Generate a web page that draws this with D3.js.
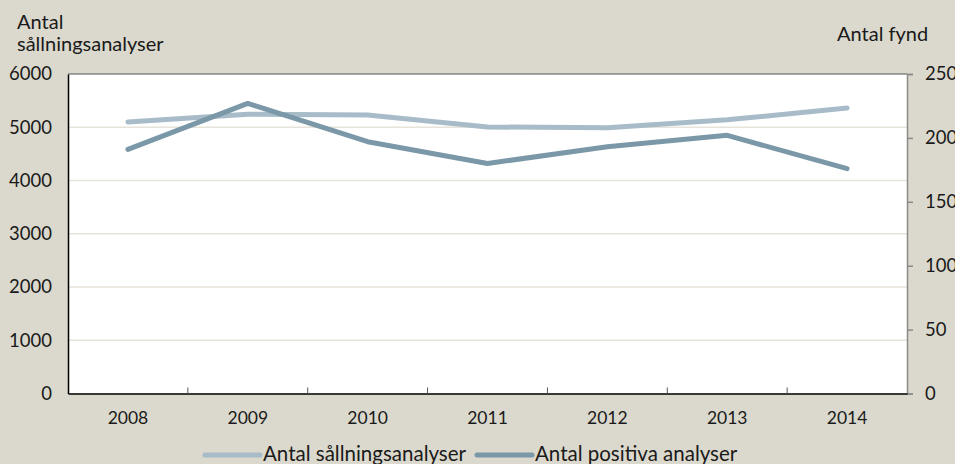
<!DOCTYPE html>
<html><head><meta charset="utf-8">
<script src="https://cdn.jsdelivr.net/npm/d3@7"></script>
<style>
html,body{margin:0;padding:0;background:#dbd9cd;}
svg{display:block;font-family:Lato,"DejaVu Sans",sans-serif;}
</style></head>
<body>
<svg id="chart" width="955" height="464"></svg>
<script>
const years = ["2008","2009","2010","2011","2012","2013","2014"];
const screenings = [5100, 5245, 5230, 5005, 4990, 5140, 5360];
const positives = [191, 227, 197, 180, 193, 202, 176];
const leftTicks = [0, 1000, 2000, 3000, 4000, 5000, 6000];
const rightTicks = [0, 50, 100, 150, 200, 250];
const seriesNames = ["Antal sållningsanalyser", "Antal positiva analyser"];

const W = 955, H = 464;
const m = {l: 68, r: 48, t: 74, b: 70.5};
const svg = d3.select("#chart");
svg.append("rect").attr("width", W).attr("height", H).attr("fill", "#dbd9cd");

const x = d3.scaleBand().domain(years).range([m.l, W - m.r]);
const yL = d3.scaleLinear().domain([0, 6000]).range([H - m.b, m.t]);
const yR = d3.scaleLinear().domain([0, 250]).range([H - m.b, m.t]);
const cx = d => x(d) + x.bandwidth() / 2;

// plot background
svg.append("rect").attr("x", m.l).attr("y", m.t)
  .attr("width", W - m.r - m.l).attr("height", H - m.b - m.t).attr("fill", "#ffffff");

// grid
svg.append("g").selectAll("line").data(leftTicks.filter(v => v > 0 && v < 6000)).join("line")
  .attr("x1", m.l).attr("x2", W - m.r)
  .attr("y1", d => yL(d)).attr("y2", d => yL(d))
  .attr("stroke", "#e6e3da").attr("stroke-width", 1.5);

// top border
svg.append("line").attr("x1", m.l).attr("x2", W - m.r).attr("y1", m.t).attr("y2", m.t)
  .attr("stroke", "#555").attr("stroke-width", 1.2);

// left axis
const gL = svg.append("g").attr("transform", `translate(${m.l},0)`)
  .call(d3.axisLeft(yL).tickValues(leftTicks).tickSize(0).tickPadding(16).tickFormat(d3.format("d")));
gL.select(".domain").attr("stroke", "#000").attr("stroke-width", 1.5);
gL.selectAll("text").attr("font-size", 18.5).attr("fill", "#1a1a1a").attr("font-family", "Lato");

// right axis
const gR = svg.append("g").attr("transform", `translate(${W - m.r},0)`)
  .call(d3.axisRight(yR).tickValues(rightTicks).tickSize(6).tickPadding(12).tickFormat(d3.format("d")));
gR.select(".domain").attr("stroke", "#8a8a8a").attr("stroke-width", 1.5);
gR.selectAll(".tick line").attr("stroke", "#8a8a8a").attr("stroke-width", 1.5);
gR.selectAll("text").attr("font-size", 18.5).attr("fill", "#1a1a1a").attr("font-family", "Lato");

// bottom axis
const gB = svg.append("g").attr("transform", `translate(0,${H - m.b})`)
  .call(d3.axisBottom(x).tickSize(0).tickPadding(18));
gB.select(".domain").attr("stroke", "#000").attr("stroke-width", 1.5);
gB.selectAll("text").attr("font-size", 17.5).attr("fill", "#1a1a1a").attr("font-family", "Lato");
svg.append("g").selectAll("line").data(years.slice(0, -1)).join("line")
  .attr("x1", d => x(d) + x.bandwidth()).attr("x2", d => x(d) + x.bandwidth())
  .attr("y1", H - m.b).attr("y2", H - m.b - 6)
  .attr("stroke", "#555").attr("stroke-width", 1);

// lines
const lineL = d3.line().x((d, i) => cx(years[i])).y(d => yL(d));
const lineR = d3.line().x((d, i) => cx(years[i])).y(d => yR(d));
const colors = ["#a7bcc8", "#7b98a9"];
svg.append("path").datum(screenings).attr("d", lineL).attr("fill", "none")
  .attr("stroke", colors[0]).attr("stroke-width", 5).attr("stroke-linecap", "round").attr("stroke-linejoin", "round");
svg.append("path").datum(positives).attr("d", lineR).attr("fill", "none")
  .attr("stroke", colors[1]).attr("stroke-width", 5).attr("stroke-linecap", "round").attr("stroke-linejoin", "round");

// axis titles
const tL = svg.append("text").attr("x", 17).attr("y", 29).attr("font-size", 20).attr("fill", "#1a1a1a");
tL.append("tspan").attr("x", 17).text("Antal");
tL.append("tspan").attr("x", 17).attr("dy", 22).text("sållningsanalyser");
svg.append("text").attr("x", 837).attr("y", 41).attr("font-size", 20).attr("fill", "#1a1a1a").text("Antal fynd");

// legend
const leg = [{x1: 205, x2: 260, tx: 263}, {x1: 477, x2: 532, tx: 535}];
leg.forEach((p, i) => {
  svg.append("line").attr("x1", p.x1).attr("x2", p.x2).attr("y1", 455).attr("y2", 455)
    .attr("stroke", colors[i]).attr("stroke-width", 5).attr("stroke-linecap", "round");
  svg.append("text").attr("x", p.tx).attr("y", 461).attr("font-size", 20.5).attr("fill", "#1a1a1a").text(seriesNames[i]);
});

// cut-off source line
svg.append("text").attr("x", 27).attr("y", 475).attr("font-size", 16).attr("fill", "#1a1a1a")
  .text("Källa: Rättsmedicinalverket");
</script>
</body></html>
